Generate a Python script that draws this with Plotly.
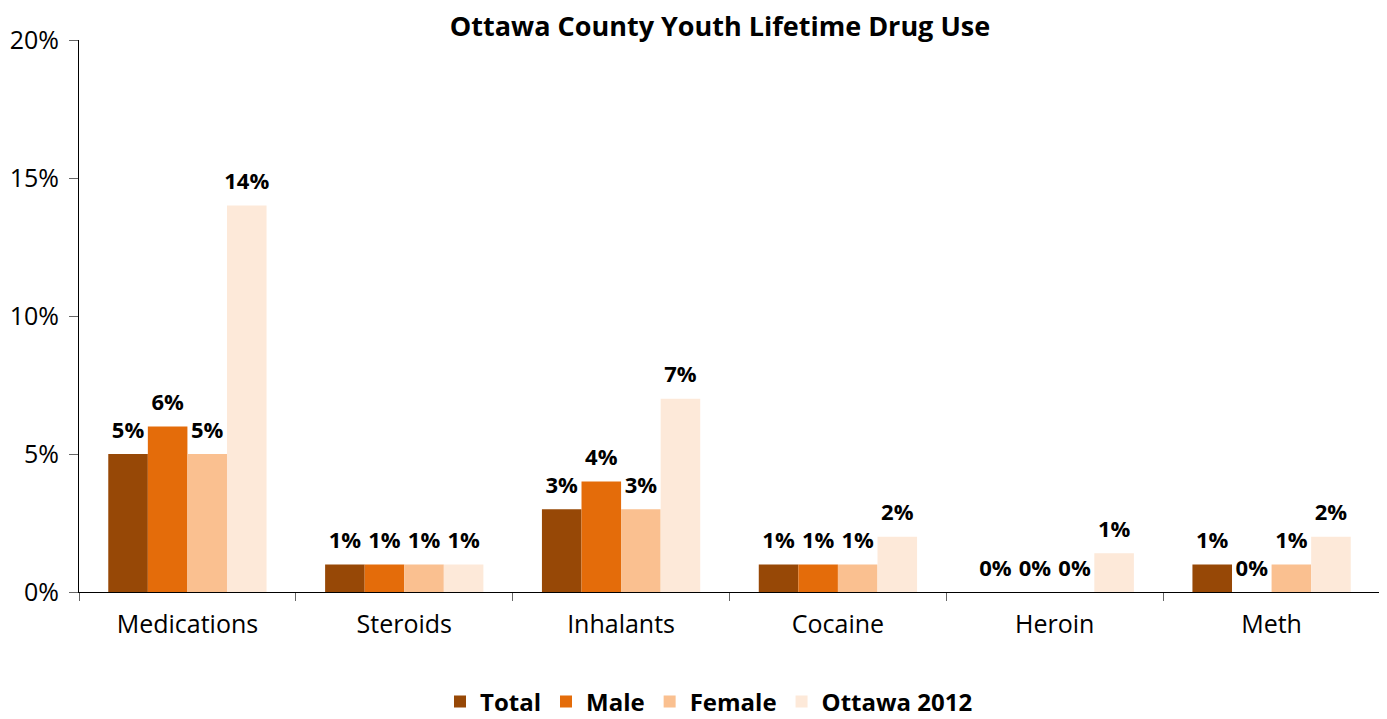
import plotly.graph_objects as go

categories = ["Medications", "Steroids", "Inhalants", "Cocaine", "Heroin", "Meth"]
total = [5, 1, 3, 1, 0, 1]
male = [6, 1, 4, 1, 0, 0]
female = [5, 1, 3, 1, 0, 1]
ottawa_2012 = [14, 1, 7, 2, 1.4, 2]

series = [
    ("Total", total, "#974806"),
    ("Male", male, "#E46C0A"),
    ("Female", female, "#FAC090"),
    ("Ottawa 2012", ottawa_2012, "#FDE9D9"),
]

W, H = 1379, 711  # page body has an 8px margin

fig = go.Figure()
for name, vals, color in series:
    fig.add_trace(go.Bar(
        name=name,
        x=categories,
        y=[v / 100 for v in vals],
        marker=dict(color=color, line=dict(width=0)),
        hoverinfo="x+y+name",
    ))
for name, vals, color in series:
    fig.add_trace(go.Scatter(
        name=name,
        x=categories,
        y=[v / 100 for v in vals],
        mode="markers+text",
        marker=dict(size=16, color="rgba(0,0,0,0)"),
        text=[f"{round(v):.0f}%" for v in vals],
        textposition="top center",
        textfont=dict(family="Open Sans", size=22, color="black", weight="bold"),
        cliponaxis=False,
        showlegend=False,
        hoverinfo="skip",
    ))

fig.update_layout(
    width=W, height=H,
    barmode="group",
    bargap=0.27,
    bargroupgap=0,
    scattermode="group",
    scattergap=0.27,
    plot_bgcolor="white",
    paper_bgcolor="white",
    margin=dict(l=71, r=7, t=32, b=127, autoexpand=False),
    font=dict(family="Open Sans", size=25, color="black"),
    title=dict(
        text="<b>Ottawa County Youth Lifetime Drug Use</b>",
        x=712 / W, xref="container", y=1 - 19 / H, yref="container",
        font=dict(family="Open Sans", size=27, color="black"),
        xanchor="center", yanchor="middle",
    ),
    legend=dict(
        orientation="h", x=701 / W, xanchor="center", xref="container",
        y=1 - 694 / H, yanchor="middle", yref="container",
        font=dict(family="Open Sans", size=24, color="black", weight="bold"),
        itemwidth=30, traceorder="normal",
    ),
    showlegend=True,
)
fig.update_yaxes(
    range=[0, 0.2],
    tickvals=[0, 0.05, 0.10, 0.15, 0.20],
    ticktext=["0%", "5%", "10%", "15%", "20%"],
    showgrid=False, zeroline=False,
    showline=True, linecolor="black", linewidth=1,
    ticks="outside", ticklen=9, tickcolor="#666",
    ticklabelstandoff=5,
    tickfont=dict(size=25),
    automargin=False,
)
fig.update_xaxes(
    showline=True, linecolor="black", linewidth=1,
    ticks="outside", ticklen=8, tickcolor="#666",
    tickson="boundaries",
    ticklabelstandoff=10,
    tickfont=dict(size=25),
    showgrid=False,
    automargin=False,
)

fig.write_html("out.html")
